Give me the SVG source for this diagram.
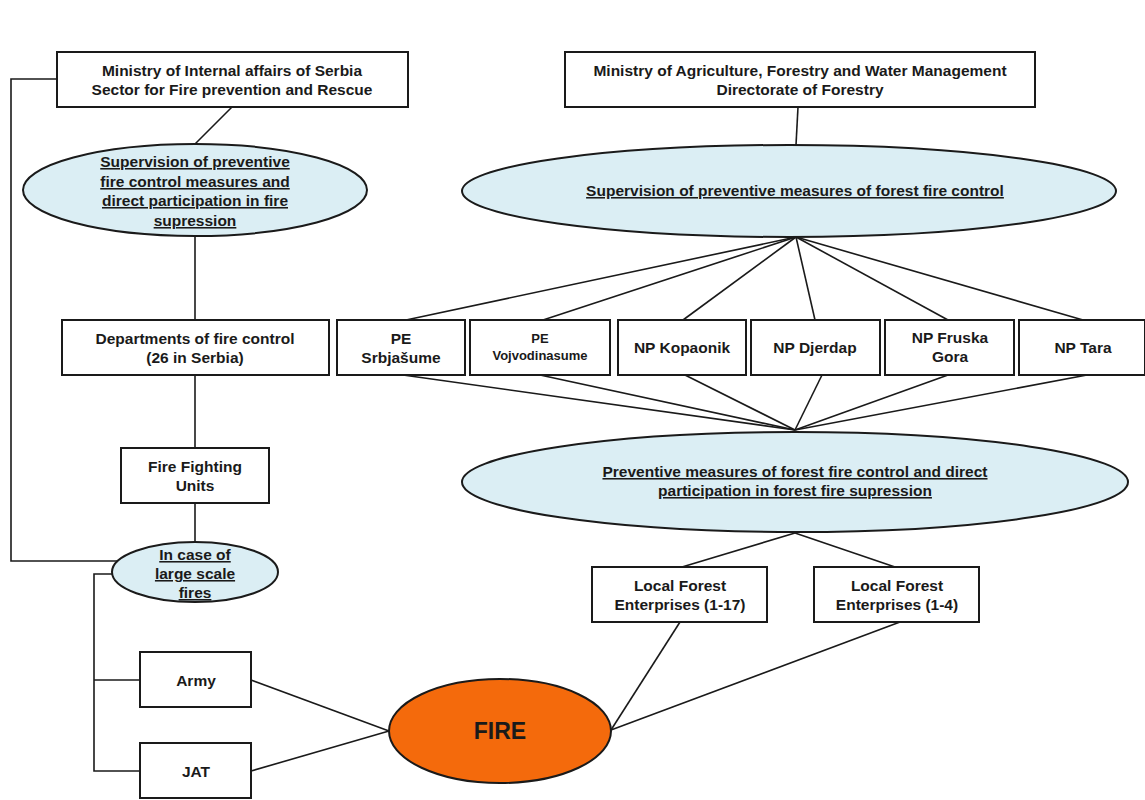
<svg xmlns="http://www.w3.org/2000/svg" width="1145" height="800" viewBox="0 0 1145 800">
<style>
.box{fill:#fff;stroke:#1a1a1a;stroke-width:2}
.ell{fill:#dbeef4;stroke:#1a1a1a;stroke-width:2}
.fire{fill:#f46a0c;stroke:#1a1a1a;stroke-width:2}
.c{fill:none;stroke:#1a1a1a;stroke-width:1.6}
text{font-family:"Liberation Sans",Arial,sans-serif;font-weight:bold;font-size:15.5px;fill:#1a1a1a;text-anchor:middle}
.u{text-decoration:underline}
.sm{font-size:13px}
</style>
<rect width="1145" height="800" fill="#fff"/>
<g id="connectors">
<polyline class="c" points="57,79 11,79 11,561 118,561"/>
<line class="c" x1="232" y1="107" x2="195" y2="144"/>
<line class="c" x1="195" y1="236" x2="195" y2="320"/>
<line class="c" x1="195" y1="375" x2="195" y2="448"/>
<line class="c" x1="195" y1="503" x2="195" y2="543"/>
<polyline class="c" points="116,574 94,574 94,771 140,771"/>
<line class="c" x1="94" y1="680" x2="140" y2="680"/>
<line class="c" x1="251" y1="680" x2="389" y2="731"/>
<line class="c" x1="251" y1="771" x2="389" y2="731"/>
<line class="c" x1="798" y1="107" x2="796" y2="145"/>
<line class="c" x1="796" y1="237" x2="406" y2="320"/>
<line class="c" x1="796" y1="237" x2="543" y2="320"/>
<line class="c" x1="796" y1="237" x2="683" y2="320"/>
<line class="c" x1="796" y1="237" x2="815" y2="320"/>
<line class="c" x1="796" y1="237" x2="948" y2="320"/>
<line class="c" x1="796" y1="237" x2="1083" y2="320"/>
<line class="c" x1="403" y1="375" x2="795" y2="430"/>
<line class="c" x1="540" y1="375" x2="795" y2="430"/>
<line class="c" x1="685" y1="375" x2="795" y2="430"/>
<line class="c" x1="822" y1="375" x2="795" y2="430"/>
<line class="c" x1="948" y1="375" x2="795" y2="430"/>
<line class="c" x1="1087" y1="375" x2="795" y2="430"/>
<line class="c" x1="795" y1="533" x2="682" y2="567"/>
<line class="c" x1="795" y1="533" x2="895" y2="567"/>
<line class="c" x1="680" y1="622" x2="611" y2="730"/>
<line class="c" x1="900" y1="622" x2="611" y2="730"/>
</g>
<g id="ministry-internal"><rect class="box" x="57" y="52" width="351" height="55"/><text x="232" y="76">Ministry of Internal affairs of Serbia</text><text x="232" y="95">Sector for Fire prevention and Rescue</text></g>
<g id="supervision-fire"><ellipse class="ell" cx="195" cy="190" rx="172" ry="46"/><text class="u" x="195" y="167">Supervision of preventive</text><text class="u" x="195" y="187">fire control measures and</text><text class="u" x="195" y="206">direct participation in fire</text><text class="u" x="195" y="226">supression</text></g>
<g id="ministry-agri"><rect class="box" x="565" y="52" width="470" height="55"/><text x="800" y="76">Ministry of Agriculture, Forestry and Water Management</text><text x="800" y="95">Directorate of Forestry</text></g>
<g id="supervision-forest"><ellipse class="ell" cx="789" cy="191" rx="327" ry="46"/><text class="u" x="795" y="196">Supervision of preventive measures of forest fire control</text></g>
<g id="departments"><rect class="box" x="62" y="320" width="267" height="55"/><text x="195" y="344">Departments of fire control</text><text x="195" y="363">(26 in Serbia)</text></g>
<g id="pe-srbijasume"><rect class="box" x="337" y="320" width="128" height="55"/><text x="401" y="344">PE</text><text x="401" y="363">Srbjašume</text></g>
<g id="pe-vojvodinasume"><rect class="box" x="470" y="320" width="140" height="55"/><text class="sm" x="540" y="343">PE</text><text class="sm" x="540" y="360">Vojvodinasume</text></g>
<g id="np-kopaonik"><rect class="box" x="618" y="320" width="128" height="55"/><text x="682" y="353">NP Kopaonik</text></g>
<g id="np-djerdap"><rect class="box" x="751" y="320" width="129" height="55"/><text x="815" y="353">NP Djerdap</text></g>
<g id="np-fruska-gora"><rect class="box" x="885" y="320" width="129" height="55"/><text x="950" y="343">NP Fruska</text><text x="950" y="362">Gora</text></g>
<g id="np-tara"><rect class="box" x="1019" y="320" width="126" height="55"/><text x="1083" y="353">NP Tara</text></g>
<g id="fire-fighting-units"><rect class="box" x="121" y="448" width="148" height="55"/><text x="195" y="472">Fire Fighting</text><text x="195" y="491">Units</text></g>
<g id="preventive-forest"><ellipse class="ell" cx="795" cy="482" rx="333" ry="50"/><text class="u" x="795" y="477">Preventive measures of forest fire control and direct</text><text class="u" x="795" y="496">participation in forest fire supression</text></g>
<g id="large-scale"><ellipse class="ell" cx="195" cy="572" rx="83" ry="30"/><text class="u" x="195" y="560">In case of</text><text class="u" x="195" y="579">large scale</text><text class="u" x="195" y="598">fires</text></g>
<g id="local-forest-17"><rect class="box" x="592" y="567" width="175" height="55"/><text x="680" y="591">Local Forest</text><text x="680" y="610">Enterprises (1-17)</text></g>
<g id="local-forest-4"><rect class="box" x="814" y="567" width="165" height="55"/><text x="897" y="591">Local Forest</text><text x="897" y="610">Enterprises (1-4)</text></g>
<g id="army"><rect class="box" x="140" y="652" width="111" height="55"/><text x="196" y="686">Army</text></g>
<g id="jat"><rect class="box" x="140" y="743" width="111" height="55"/><text x="196" y="777">JAT</text></g>
<g id="fire"><ellipse class="fire" cx="500" cy="731" rx="111" ry="52"/><text x="500" y="739" style="font-size:23px">FIRE</text></g>
</svg>
